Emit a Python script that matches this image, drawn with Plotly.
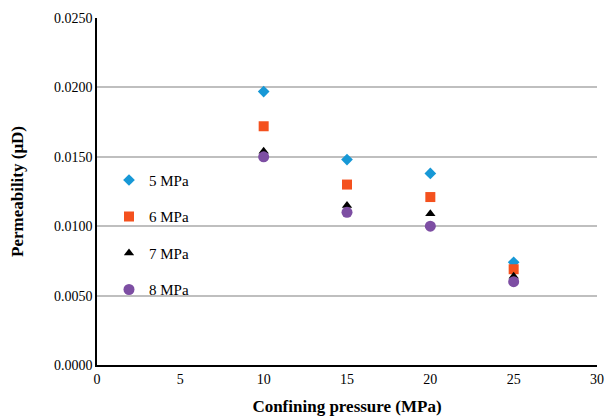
import plotly.graph_objects as go

confining = [10, 15, 20, 25]
series_names = ["5 MPa", "6 MPa", "7 MPa", "8 MPa"]
perm_5 = [0.0197, 0.0148, 0.0138, 0.0074]
perm_6 = [0.0172, 0.0130, 0.0121, 0.0069]
perm_7 = [0.0154, 0.0115, 0.0109, 0.0064]
perm_8 = [0.0150, 0.0110, 0.0100, 0.0060]
x_ticks = [0, 5, 10, 15, 20, 25, 30]
y_ticks = [0.0, 0.005, 0.010, 0.015, 0.020, 0.025]

styles = [
    dict(symbol="diamond", color="#1798d6", size=9),
    dict(symbol="square", color="#f4511e", size=10),
    dict(symbol="triangle-up", color="#000000", size=9),
    dict(symbol="circle", color="#7d4ea3", size=11),
]

fig = go.Figure()
for i, (name, vals) in enumerate(zip(series_names, [perm_5, perm_6, perm_7, perm_8])):
    st = styles[i]
    fig.add_trace(go.Scatter(
        x=confining, y=vals, mode="markers", name=name, legendgroup=name,
        marker=dict(symbol=st["symbol"], color=st["color"], size=st["size"], line=dict(width=0)),
    ))

font_family = "Liberation Serif"
fig.update_layout(
    width=609, height=416,
    margin=dict(l=97, r=12, t=18, b=51),
    paper_bgcolor="white", plot_bgcolor="white",
    font=dict(family=font_family, size=14, color="#000000"),
    showlegend=True,
    legend=dict(x=0.024, y=0.58, xanchor="left", yanchor="top",
                traceorder="grouped", tracegroupgap=14,
                font=dict(family=font_family, size=15, color="#000000"),
                bgcolor="rgba(0,0,0,0)", itemwidth=30),
    xaxis=dict(
        range=[0, 30], tickvals=x_ticks, ticktext=[str(v) for v in x_ticks],
        showgrid=False, zeroline=False, showline=True, linecolor="#000000", linewidth=1.5,
        ticks="", tickfont=dict(family=font_family, size=14), automargin=False,
        title=dict(text="<b>Confining pressure (MPa)</b>", font=dict(family=font_family, size=17), standoff=15),
    ),
    yaxis=dict(
        range=[0, 0.025], tickvals=y_ticks, ticktext=[f"{v:.4f}" for v in y_ticks],
        showgrid=True, gridcolor="#bfbfbf", gridwidth=1.5,
        zeroline=False, showline=True, linecolor="#000000", linewidth=1.5,
        ticks="", tickfont=dict(family=font_family, size=14), automargin=False,
        title=dict(text="<b>Permeability (μD)</b>", font=dict(family=font_family, size=17), standoff=26),
    ),
)
fig.write_html("out.html")
